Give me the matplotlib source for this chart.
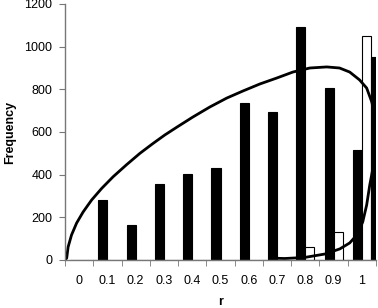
import matplotlib
matplotlib.use('Agg')
import matplotlib.pyplot as plt
import numpy as np

plt.rcParams['font.family'] = ['Liberation Sans', 'DejaVu Sans']

# categories (r) and bar heights
labels = ['0', '0.1', '0.2', '0.3', '0.4', '0.5', '0.6', '0.7', '0.8', '0.9', '1']
black = [0, 280, 165, 355, 403, 430, 735, 693, 1092, 805, 515]
white = [0, 0, 0, 0, 0, 0, 0, 0, 60, 130, 1050]
extra = [0, 0, 0, 0, 0, 0, 0, 0, 0, 0, 950]   # cut off at the right edge

# smooth curve, in category units
curve_x = [-0.50, -0.44, -0.39, -0.27, -0.09, 0.14, 0.44, 0.80, 1.20, 1.68,
           2.15, 2.61, 3.03, 3.46, 4.02, 4.62, 5.22, 5.79, 6.39, 6.99, 7.56,
           8.16, 8.76, 9.21, 9.57, 9.92, 10.17, 10.35, 10.45, 10.49, 10.47,
           10.38, 10.28, 10.17, 10.03, 9.82, 9.57, 9.22, 8.69, 7.98, 7.27, 6.74]
curve_y = [0, 9, 61, 117, 173, 225, 281, 336, 390, 447,
           500, 546, 586, 623, 670, 717, 759, 792, 825, 853, 881,
           900, 905, 900, 881, 844, 806, 741, 680, 609, 516,
           422, 352, 258, 178, 117, 80, 52, 28, 12, 7, 9]

fig = plt.figure(figsize=(3.78, 3.08), dpi=100)
ax = fig.add_axes([65/378, 48/308, 311/378, 256/308])

x = np.arange(len(labels))
w = 0.32
ax.bar(x - w/2, black, w, color='black', edgecolor='black', linewidth=0.8)
ax.bar(x + w/2, white, w, color='white', edgecolor='black', linewidth=0.8)
ax.bar(x + 1.5*w, extra, w, color='black', edgecolor='black', linewidth=0.8)
ax.plot(curve_x, curve_y, color='black', linewidth=2.0,
        solid_joinstyle='round', solid_capstyle='round')

ax.set_xlim(-0.5, 10.5)
ax.set_ylim(0, 1200)
ax.set_yticks(range(0, 1201, 200))
ax.set_xticks(x)
ax.set_xticklabels(labels)
ax.set_xticks(np.arange(-0.5, 10.6, 1), minor=True)

for s in ['top', 'right']:
    ax.spines[s].set_visible(False)
for s in ['left', 'bottom']:
    ax.spines[s].set_color('#777777')
    ax.spines[s].set_linewidth(1.0)

ax.tick_params(axis='x', which='major', length=0, pad=11, labelsize=9)
ax.tick_params(axis='x', which='minor', length=4, color='#777777', direction='out')
ax.tick_params(axis='y', length=4, color='#777777', pad=5, labelsize=9)

ax.set_ylabel('Frequency', fontsize=9, fontweight='bold')
ax.yaxis.set_label_coords(-0.158, 0.5)
ax.set_xlabel('r', fontsize=9, fontweight='bold')
ax.xaxis.set_label_coords(0.5, -0.14)

fig.savefig('out.png', dpi=100)
